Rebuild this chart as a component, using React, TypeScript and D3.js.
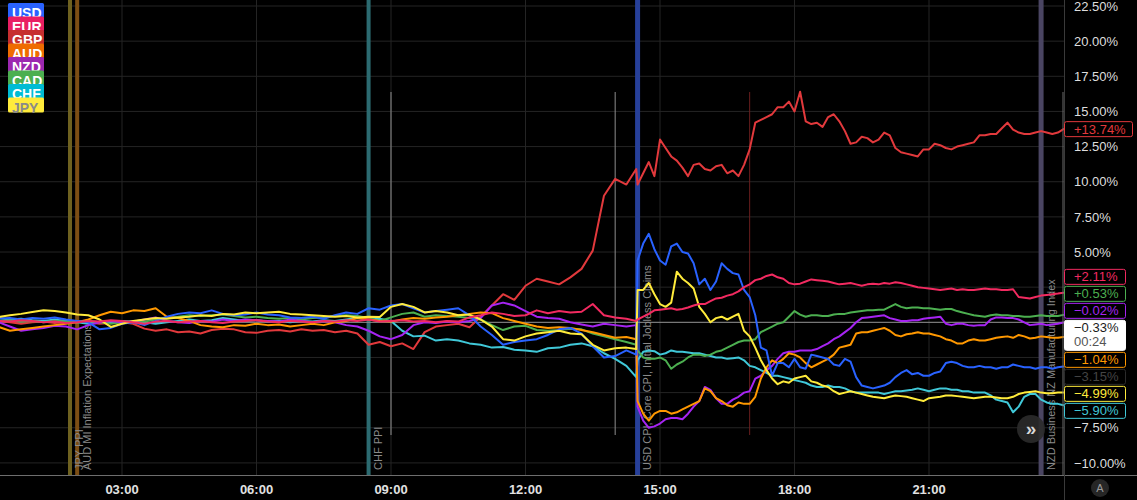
import React from "react";
import * as d3 from "d3";

// ---- time grid (hours of the day): 15-min steps, then 7.5-min steps after the 14:30 release ----
const hours = [
  0.25, 0.5, 0.75, 1, 1.25, 1.5, 1.75, 2, 2.25, 2.5, 2.75, 3,
  3.25, 3.5, 3.75, 4, 4.25, 4.5, 4.75, 5, 5.25, 5.5, 5.75, 6,
  6.25, 6.5, 6.75, 7, 7.25, 7.5, 7.75, 8, 8.25, 8.5, 8.75, 9,
  9.25, 9.5, 9.75, 10, 10.25, 10.5, 10.75, 11, 11.25, 11.5, 11.75, 12,
  12.25, 12.5, 12.75, 13, 13.25, 13.5, 13.75, 14, 14.25, 14.47,
  14.5, 14.625, 14.75, 14.875,
  15, 15.125, 15.25, 15.375, 15.5, 15.625, 15.75, 15.875,
  16, 16.125, 16.25, 16.375, 16.5, 16.625, 16.75, 16.875,
  17, 17.125, 17.25, 17.375, 17.5, 17.625, 17.75, 17.875,
  18, 18.125, 18.25, 18.375, 18.5, 18.625, 18.75, 18.875,
  19, 19.125, 19.25, 19.375, 19.5, 19.625, 19.75, 19.875,
  20, 20.125, 20.25, 20.375, 20.5, 20.625, 20.75, 20.875,
  21, 21.125, 21.25, 21.375, 21.5, 21.625, 21.75, 21.875,
  22, 22.125, 22.25, 22.375, 22.5, 22.625, 22.75, 22.875,
  23, 23.125, 23.25, 23.375, 23.5, 23.625, 23.75, 23.875,
  24,
];

// ---- series values (% change) ----
const USD = [
  0.26, 0.3, 0.2, 0.3, 0.25, 0.35, 0.2, 0.1, 0.0, -0.5, -0.4, -0.1,
  0.0, -0.2, 0.1, 0.4, 0.6, 0.7, 0.65, 0.85, 0.6, 0.5, 0.55, 0.7,
  0.55, 0.5, 0.35, 0.3, 0.4, 0.25, 0.5, 0.7, 0.6, 1.0, 0.9, 1.2,
  1.3, 1.0, 0.7, 0.8, 0.9, 1.0, 0.5, -0.3, -0.9, -1.6, -1.4, -1.3,
  -1.2, -0.9, -0.5, -0.4, -0.8, -1.7, -2.5, -2.4, -2.0, -2.3,
  4.4, 5.6, 6.3, 5.2,
  4.4, 4.1, 5.4, 5.6, 5.0, 4.9, 4.2, 2.7,
  3.1, 2.3, 2.9, 4.2, 3.8, 3.5, 3.4, 2.3,
  1.8, 0.5, -1.8, -2.0, -3.8, -2.9, -2.9, -3.2,
  -2.6, -3.2, -3.3, -2.3, -2.4, -2.5, -2.6, -3.0,
  -3.1, -2.6, -2.8, -3.9, -4.5, -4.6, -4.7, -4.6,
  -4.5, -4.3, -3.9, -3.6, -3.4, -3.7, -3.6, -3.8,
  -3.8, -3.6, -3.5, -2.9, -2.8, -2.9, -3.1, -3.2,
  -3.2, -3.1, -3.2, -3.2, -3.3, -3.2, -3.2, -3.0,
  -3.1, -3.2, -3.2, -3.3, -3.2, -3.2, -3.3, -3.2,
  -3.15,
];
const EUR = [
  0.1, 0.05, 0.15, 0.1, 0.0, 0.05, -0.05, 0.0, 0.1, 0.05, 0.15, 0.1,
  0.0, -0.1, 0.05, 0.1, 0.0, 0.05, 0.1, 0.0, -0.05, 0.05, 0.1, 0.15,
  0.05, 0.0, 0.1, 0.05, 0.0, 0.1, 0.05, 0.15, 0.1, 0.2, 0.05, 0.1,
  0.15, 0.05, 0.1, 0.0, 0.1, 0.05, 0.35, 0.5, 0.7, 0.6, 0.45, 0.5,
  0.85, 0.65, 0.8, 0.7, 0.75, 1.3, 0.5, 0.35, 0.25, 0.1,
  0.2, 0.4, 0.6, 0.85,
  0.9, 0.95, 1.0, 0.9, 0.95, 1.05, 1.2, 1.3,
  1.3, 1.5, 1.7, 1.75, 1.9, 2.0, 2.2, 2.5,
  2.7, 3.0, 3.1, 3.3, 3.4, 3.2, 3.1, 2.8,
  2.7, 2.75, 2.9, 3.05, 3.0, 2.95, 2.9, 2.8,
  2.7, 2.75, 2.8, 2.7, 2.6, 2.7, 2.75, 2.7,
  2.8, 2.75, 2.85, 2.8, 2.7, 2.6, 2.5, 2.45,
  2.4, 2.35, 2.3, 2.35, 2.4, 2.3, 2.35, 2.3,
  2.3, 2.35, 2.4, 2.35, 2.35, 2.3, 2.3, 2.35,
  1.8, 1.75, 1.7, 1.8, 1.9, 1.95, 2.0, 2.05,
  2.11,
];
const GBP = [
  0.1, 0.0, -0.1, 0.0, 0.05, -0.05, 0.0, 0.1, 0.0, -0.1, -0.05, 0.0,
  -0.1, -0.45, -0.6, -0.5, -0.7, -0.65, -0.8, -0.55, -0.45, -0.5, -0.7, -0.75,
  -0.6, -0.55, -0.65, -0.5, -0.6, -0.55, -0.7, -0.6, -0.8, -1.6, -1.4, -1.7,
  -1.5, -1.9, -0.7, -0.3, -0.2, -0.1, -0.35, 0.4, 1.2, 2.0, 1.6, 2.6,
  3.1, 2.9, 2.7, 3.2, 3.8, 5.1, 9.0, 10.2, 9.8, 10.9,
  9.8, 10.6, 11.4, 10.4,
  13.0, 12.4, 11.8, 11.5, 11.0, 10.4, 11.2, 11.3,
  10.9, 10.8, 11.1, 11.2, 10.6, 10.8, 10.4, 11.2,
  12.3, 14.2, 14.4, 14.6, 14.8, 15.3, 15.3, 15.7,
  15.0, 16.4, 14.3, 14.1, 14.2, 13.9, 14.6, 14.8,
  14.3, 13.6, 12.7, 12.8, 13.2, 13.1, 12.8, 13.0,
  13.5, 13.3, 12.4, 12.1, 12.0, 11.9, 11.8, 12.3,
  12.3, 12.7, 12.6, 12.4, 12.3, 12.5, 12.6, 12.7,
  12.8, 13.3, 13.3, 13.4, 13.4, 13.8, 14.2, 13.7,
  13.5, 13.4, 13.4, 13.5, 13.6, 13.5, 13.4, 13.5,
  13.74,
];
const AUD = [
  -0.33, -0.6, -0.5, -0.4, -0.3, -0.2, -0.1, 0.0, 0.2, 0.5, 0.75, 0.65,
  0.85, 0.8, 1.0, 0.4, 0.3, 0.1, -0.2, -0.3, -0.35, -0.2, -0.25, -0.1,
  -0.2, -0.15, -0.3, -0.2, -0.1, -0.2, 0.0, 0.1, 0.3, 0.2, 0.1, 0.05,
  0.2, 0.3, 0.25, 0.35, 0.4, 0.5, 0.6, 0.7, 0.65, 0.3, 0.1, -0.1,
  -0.3, -0.4, -0.35, -0.4, -0.55, -0.7, -0.9, -1.1, -1.05, -1.2,
  -5.6, -6.5, -7.0, -6.5,
  -6.3, -6.3, -6.5, -6.4, -6.2, -6.0, -5.8, -5.6,
  -4.7, -4.9, -5.4, -5.6, -5.9, -6.0, -5.7, -5.8,
  -5.8, -5.3, -4.0, -3.2, -2.7, -2.9, -2.6, -2.2,
  -2.3, -2.5, -2.9, -3.2, -3.0, -2.8, -2.6, -2.3,
  -1.8, -1.7, -1.6, -0.8, -0.7, -0.7, -0.6, -0.5,
  -0.4, -0.6, -0.9, -1.0, -0.85, -0.8, -0.7, -0.8,
  -0.8, -0.9, -1.0, -1.2, -1.3, -1.5, -1.5, -1.3,
  -1.2, -1.3, -1.3, -1.2, -1.1, -1.05, -1.0, -1.1,
  -0.9, -1.0, -1.15, -1.1, -1.0, -1.05, -1.1, -1.1,
  -1.04,
];
const NZD = [
  0.0, -0.3, -0.6, -0.5, -0.4, -0.25, -0.3, -0.5, -0.2, 0.0, 0.1, 0.0,
  0.05, 0.2, 0.35, 0.1, 0.0, -0.05, 0.1, 0.05, 0.2, 0.1, 0.2, 0.15,
  0.1, 0.05, 0.2, 0.1, 0.0, 0.1, 0.0, -0.2, -0.3, -0.6, -1.0, -1.2,
  -0.9, -0.2, 0.0, -0.05, 0.05, 0.0, 0.1, 0.3, 1.2, 1.4, 1.2, 0.8,
  0.4, 0.3, 0.25, 0.0, -0.15, -0.3, -0.1, -0.2, -0.3, -0.2,
  -6.0, -7.0, -7.5, -7.4,
  -7.2, -6.9, -6.8, -6.8, -6.9, -6.5, -6.0, -5.6,
  -4.6, -4.8, -5.4, -5.8, -5.8, -5.5, -5.3, -5.0,
  -4.9, -4.0, -3.8, -3.4, -3.1, -2.6, -2.2, -2.1,
  -2.1, -2.0, -2.0, -2.0, -1.9, -1.7, -1.5, -1.2,
  -1.0, -0.7, -0.4, 0.0, 0.3, 0.35, 0.4, 0.45,
  0.5, 0.3, 0.2, 0.1, 0.1, 0.15, 0.15, 0.25,
  0.3, 0.35, 0.4, -0.1, -0.2, -0.1, -0.1, -0.2,
  -0.25, -0.2, -0.2, 0.2, 0.35, 0.35, 0.3, 0.3,
  0.2, 0.0, -0.2, -0.15, -0.1, -0.2, -0.15, -0.1,
  -0.02,
];
const CAD = [
  0.1, 0.15, 0.05, 0.1, 0.0, 0.1, 0.05, 0.0, 0.1, 0.0, -0.1, 0.0,
  0.1, 0.05, 0.2, 0.3, 0.4, 0.5, 0.45, 0.5, 0.55, 0.45, 0.35, 0.4,
  0.3, 0.25, 0.3, 0.2, 0.3, 0.35, 0.45, 0.5, 0.45, 0.3, 0.1, 0.35,
  0.6, 0.7, 0.4, 0.5, 0.45, 0.4, 0.3, 0.2, -0.2, -0.55, -0.3, -0.25,
  -0.55, -0.6, -0.55, -0.45, -0.5, -0.8, -1.0, -1.2, -1.4, -1.6,
  -2.0, -2.5, -2.6, -2.6,
  -2.5, -2.7, -3.3, -3.0, -2.8, -2.5, -2.3, -2.3,
  -2.4, -2.3, -2.1, -2.0, -1.8, -1.6, -1.4, -1.3,
  -1.3, -1.2, -0.7, -0.5, -0.3, -0.1, 0.0, 0.4,
  0.8, 0.55, 0.4, 0.5, 0.5, 0.45, 0.45, 0.55,
  0.6, 0.6, 0.7, 0.75, 0.8, 0.85, 0.85, 0.9,
  0.9, 1.1, 1.3, 1.1, 1.0, 1.05, 1.05, 1.0,
  1.0, 0.95, 0.9, 0.95, 0.95, 0.8, 0.7, 0.6,
  0.5, 0.45, 0.4, 0.5, 0.55, 0.5, 0.5, 0.45,
  0.45, 0.4, 0.4, 0.45, 0.5, 0.45, 0.45, 0.45,
  0.53,
];
const CHF = [
  0.3, 0.2, 0.25, 0.15, 0.1, 0.2, 0.1, 0.0, -0.1, 0.05, 0.0, 0.1,
  0.05, 0.0, -0.1, 0.0, 0.1, 0.2, 0.1, 0.15, 0.3, 0.2, 0.1, 0.15,
  0.05, 0.1, 0.0, 0.1, 0.05, 0.15, 0.1, 0.2, 0.3, 0.2, 0.25, 0.1,
  -0.6, -1.0, -0.95, -1.3, -1.2, -1.3, -1.5, -1.6, -1.8, -1.75, -1.95, -2.0,
  -2.1, -1.85, -1.8, -1.6, -1.5, -1.7, -2.2, -2.6, -3.1, -3.9,
  -2.7, -2.1, -2.0, -2.05,
  -2.3, -2.2, -2.0, -2.1, -2.1, -2.15, -2.2, -2.2,
  -2.3, -2.4, -2.5, -2.5, -2.6, -2.55, -2.5, -2.7,
  -3.1, -3.2, -3.4, -3.6, -3.8, -3.8, -3.9, -4.0,
  -4.1, -4.2, -4.3, -4.5, -4.6, -4.6, -4.5, -4.6,
  -4.6, -4.7, -4.9, -5.0, -5.0, -5.0, -5.0, -5.0,
  -5.1, -5.0, -4.9, -4.9, -4.85, -4.8, -4.7, -4.8,
  -4.9, -4.8, -4.7, -4.7, -4.8, -4.8, -4.9, -4.9,
  -5.0, -5.0, -5.0, -5.2, -5.5, -5.6, -5.7, -6.4,
  -6.0, -5.3, -5.1, -5.1, -5.5, -5.7, -5.8, -5.8,
  -5.9,
];
const JPY = [
  0.38, 0.5, 0.6, 0.74, 0.86, 0.8, 0.7, 0.55, 0.5, 0.2, -0.33, -0.1,
  0.1, 0.2, 0.3, 0.25, 0.35, 0.4, 0.5, 0.45, 0.6, 0.55, 0.7, 0.65,
  0.7, 0.75, 0.6, 0.55, 0.5, 0.45, 0.4, 0.45, 0.35, 0.4, 0.38, 1.1,
  1.3, 1.1, 0.7, 0.8, 0.7, 0.5, 0.55, 0.2, -0.3, -1.2, -1.3, -1.0,
  -0.8, -0.7, -0.6, -0.8, -0.85, -1.6, -2.0, -1.85, -1.8, -1.9,
  2.3, 2.3, 2.8, 2.0,
  1.3, 1.1, 1.4, 3.6, 3.1, 2.8, 2.4, 1.1,
  0.6, 0.0, 0.3, 0.4, 0.2, 0.4, 0.6, -0.6,
  -1.0, -1.8, -2.7, -3.4, -4.0, -4.4, -4.2, -4.3,
  -4.0, -3.9, -3.8, -4.2, -4.3, -4.5, -4.6, -4.9,
  -5.1, -5.0, -4.9, -5.0, -5.1, -5.2, -5.3, -5.35,
  -5.4, -5.3, -5.2, -5.25, -5.3, -5.4, -5.5, -5.6,
  -5.4, -5.35, -5.3, -5.2, -5.2, -5.25, -5.3, -5.35,
  -5.4, -5.35, -5.3, -5.3, -5.35, -5.4, -5.4, -5.3,
  -5.1, -5.0, -4.95, -4.9, -5.0, -5.05, -5.05, -5.0,
  -4.99,
];

const currencies = ["USD", "EUR", "GBP", "AUD", "NZD", "CAD", "CHF", "JPY"];
const seriesValues = [USD, EUR, GBP, AUD, NZD, CAD, CHF, JPY];
const lineColors = ["#2962ff", "#f22a60", "#e2393c", "#ff9800", "#a624f2", "#4caf50", "#40c8d8", "#ffeb3b"];
const legendColors = ["#2962ff", "#e91e63", "#c62f2f", "#ef6c00", "#9c27b0", "#4caf50", "#00bcd4", "#ffeb3b"];
const legendTextColors = ["#fff", "#fff", "#fff", "#fff", "#fff", "#fff", "#fff", "#8a8a8a"];
const drawOrder = ["GBP", "CHF", "CAD", "NZD", "AUD", "USD", "JPY", "EUR"];

// ---- economic events ----
const eventHours = [1.84, 2.0, 8.5, 14.5, 23.5];
const eventLabels = [
  "JPY PPI",
  "AUD MI Inflation Expectations",
  "CHF PPI",
  "USD CPI, Core CPI, Initial Jobless Claims",
  "NZD Business NZ Manufacturing Index",
];
const eventColors = ["#6e6120", "#7c4e14", "#2c6b71", "#27409a", "#4a4562"];
const eventWidths = [4, 4, 4, 5, 5];

// ---- session markers ----
const sessionHours = [9, 14, 17];
const sessionColors = ["#8e8e8e", "#8e8e8e", "#6a1e1e"];

// ---- axes ----
const yTicks = [-10, -7.5, -5, -2.5, 0, 2.5, 5, 7.5, 10, 12.5, 15, 17.5, 20, 22.5];
const xTicks = [3, 6, 9, 12, 15, 18, 21];
const xTickLabels = ["03:00", "06:00", "09:00", "12:00", "15:00", "18:00", "21:00"];

const mainValue = -0.33;
const countdown = "00:24";

const FONT = "'Liberation Sans', Arial, Helvetica, sans-serif";

function pct(v: number, sign: boolean) {
  const s = v < 0 ? "\u2212" : sign ? "+" : "";
  return s + Math.abs(v).toFixed(2) + "%";
}

type Lab = {
  key: string;
  text: string;
  sub?: string;
  y0: number;
  h: number;
  stroke: string;
  fill: string;
  color: string;
  subColor?: string;
  top?: number;
};

export default function App() {
  const W = 1137;
  const H = 500;
  const plotRight = 1064;
  const plotBottom = 475;

  const x = d3.scaleLinear().domain([0, 24]).range([-12.5, 1063.5]);
  const y = d3.scaleLinear().domain([-10, 22.5]).range([462.9, 6.0]);

  const line = d3
    .line<number>()
    .x((_, i) => x(hours[i]))
    .y((d) => y(d));

  // right-axis labels with collision layout
  const labs: Lab[] = currencies.map((c, i) => {
    const vals = seriesValues[i];
    const v = vals[vals.length - 1];
    const dim = c === "USD";
    return {
      key: c,
      text: pct(v, true),
      y0: y(v),
      h: 16,
      stroke: dim ? "#2c2c2c" : lineColors[i],
      fill: "#000",
      color: dim ? "#444" : lineColors[i],
    };
  });
  labs.push({
    key: "main",
    text: pct(mainValue, false),
    sub: countdown,
    y0: y(mainValue),
    h: 31,
    stroke: "#fff",
    fill: "#fff",
    color: "#1a1a1a",
    subColor: "#555",
  });
  labs.sort((a, b) => a.y0 - b.y0);
  const gap = 1;
  const clusters = labs.map((l) => ({ items: [l], top: l.y0 - l.h / 2, height: l.h }));
  let changed = true;
  while (changed) {
    changed = false;
    for (let i = 0; i < clusters.length - 1; i++) {
      const a = clusters[i];
      const b = clusters[i + 1];
      if (a.top + a.height + gap > b.top) {
        const items = [...a.items, ...b.items];
        let off = 0;
        let sum = 0;
        items.forEach((it) => {
          sum += it.y0 - it.h / 2 - off;
          off += it.h + gap;
        });
        clusters.splice(i, 2, { items, top: sum / items.length, height: off - gap });
        changed = true;
        break;
      }
    }
  }
  clusters.forEach((c) => {
    let off = 0;
    c.items.forEach((it) => {
      it.top = c.top + off;
      off += it.h + gap;
    });
  });

  // tick labels hidden behind value labels are not drawn
  const visibleTicks = yTicks.filter((t) => {
    const ty = y(t);
    return !labs.some((l) => {
      const top = l.top || 0;
      return ty + 6 > top && ty - 6 < top + l.h;
    });
  });

  const gridColor = "#242424";

  return (
    <svg
      width={W}
      height={H}
      style={{ position: "absolute", left: 0, top: 0, display: "block", background: "#000" }}
      fontFamily={FONT}
    >
      <rect x={0} y={0} width={W} height={H} fill="#000" />
      <defs>
        <clipPath id="plot">
          <rect x={0} y={0} width={plotRight} height={plotBottom} />
        </clipPath>
      </defs>

      {/* grid */}
      {yTicks.map((t) => (
        <line key={"gy" + t} x1={0} x2={plotRight} y1={y(t)} y2={y(t)} stroke={gridColor} strokeWidth={1} />
      ))}
      {xTicks.map((t) => (
        <line key={"gx" + t} x1={x(t)} x2={x(t)} y1={0} y2={plotBottom} stroke={gridColor} strokeWidth={1} />
      ))}

      {/* event bars */}
      {eventHours.map((h, i) => (
        <line
          key={"ev" + i}
          x1={x(h)}
          x2={x(h)}
          y1={0}
          y2={plotBottom}
          stroke={eventColors[i]}
          strokeWidth={eventWidths[i]}
        />
      ))}
      {eventHours.map((h, i) => (
        <text
          key={"evl" + i}
          transform={`translate(${x(h) + 13.5},470) rotate(-90)`}
          fontSize={11}
          fill="#8a8a8a"
        >
          {eventLabels[i]}
        </text>
      ))}

      {/* session markers */}
      {sessionHours.map((h, i) => (
        <line key={"ss" + i} x1={x(h)} x2={x(h)} y1={92} y2={435} stroke={sessionColors[i]} strokeWidth={1} />
      ))}

      {/* zero base line */}
      <line x1={0} x2={plotRight} y1={y(0)} y2={y(0)} stroke="#8c8c8c" strokeWidth={1} />

      {/* series */}
      <g clipPath="url(#plot)">
        {drawOrder.map((c) => {
          const i = currencies.indexOf(c);
          return (
            <path
              key={c}
              d={line(seriesValues[i]) || ""}
              fill="none"
              stroke={lineColors[i]}
              strokeWidth={2}
              strokeLinejoin="round"
              strokeLinecap="round"
            />
          );
        })}
      </g>

      {/* axis borders */}
      <line x1={0} x2={W} y1={plotBottom + 0.5} y2={plotBottom + 0.5} stroke="#6e6e6e" strokeWidth={1} />
      <line x1={plotRight + 0.5} x2={plotRight + 0.5} y1={0} y2={H} stroke="#3a3a3a" strokeWidth={1} />
      <line x1={plotRight - 1} x2={plotRight - 1} y1={92} y2={plotBottom} stroke="#6a6a6a" strokeWidth={1} />

      {/* y tick labels */}
      {visibleTicks.map((t) => (
        <text key={"yt" + t} x={1074} y={y(t)} dy="0.36em" fontSize={13} fill="#dedede">
          {pct(t, false)}
        </text>
      ))}

      {/* x tick labels */}
      {xTicks.map((t, i) => (
        <text
          key={"xt" + t}
          x={x(t)}
          y={494}
          textAnchor="middle"
          fontSize={13}
          fontWeight="bold"
          fill="#e2e2e2"
        >
          {xTickLabels[i]}
        </text>
      ))}

      {/* last value labels */}
      {labs.map((l) => {
        const w = 19 + 7 * l.text.length;
        const top = l.top || 0;
        return (
          <g key={"lab" + l.key}>
            <rect
              x={plotRight + 0.5}
              y={top + 0.5}
              width={w}
              height={l.h - 1}
              rx={2}
              fill={l.fill}
              stroke={l.stroke}
              strokeWidth={1}
            />
            <text x={1074} y={top + 12.5} fontSize={13} fill={l.color}>
              {l.text}
            </text>
            {l.sub ? (
              <text x={1074} y={top + 26.5} fontSize={13} fill={l.subColor}>
                {l.sub}
              </text>
            ) : null}
          </g>
        );
      })}

      {/* legend */}
      {currencies.map((c, i) => {
        const top = 3 + i * 13.5;
        return (
          <g key={"lg" + c}>
            <rect x={8} y={top} width={36} height={15} rx={1.5} fill={legendColors[i]} />
            <text x={12} y={top + 15} fontSize={14} fontWeight="bold" fill={legendTextColors[i]}>
              {c}
            </text>
          </g>
        );
      })}

      {/* buttons */}
      <circle cx={1031} cy={429} r={14} fill="#2b2b2b" opacity={0.9} />
      <text x={1031} y={435} textAnchor="middle" fontSize={19} fontWeight="bold" fill="#d8d8d8">
        »
      </text>
      <circle cx={1100} cy={488} r={9} fill="#262626" />
      <text x={1100} y={492} textAnchor="middle" fontSize={11} fill="#9a9a9a">
        A
      </text>
    </svg>
  );
}
